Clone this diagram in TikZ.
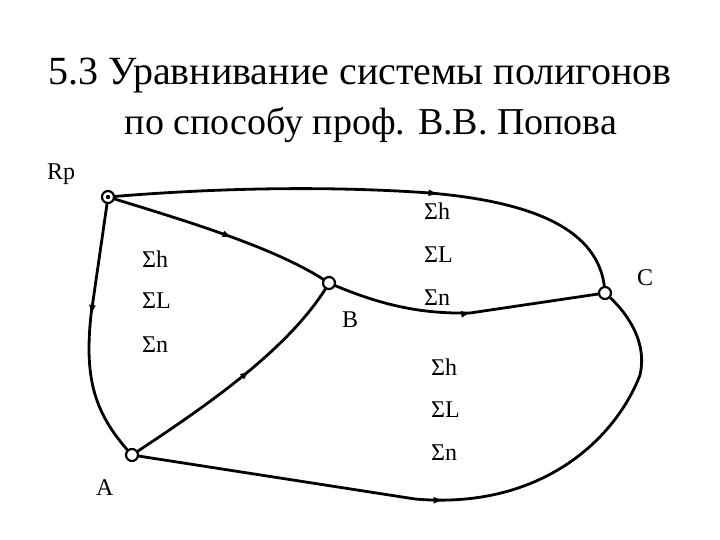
\documentclass[tikz,border=0pt]{standalone}
\usepackage{fontspec}
\setmainfont{Liberation Serif}
\usepackage{xcolor}
\usepackage{tikz}
\usetikzlibrary{arrows.meta,decorations.markings}
\definecolor{bg}{HTML}{FFFFFF}
\definecolor{ink}{HTML}{000000}
\tikzset{
  base/.style={draw=ink, line width=2.8pt, line cap=round, line join=round},
  arr/.style={postaction={decorate}, decoration={markings,
    mark=at position #1 with {\arrow{Latex[length=10pt,width=7pt]}}}},
  pt/.style={circle, draw=ink, fill=bg, line width=2.2pt, minimum size=12pt, inner sep=0pt},
  lab/.style={text=ink, font=\fontsize{24}{26}\selectfont, anchor=base west, inner sep=0pt},
  ttl/.style={text=ink, font=\fontsize{40}{44}\selectfont, anchor=base, inner sep=0pt},
}
\begin{document}
\begin{tikzpicture}[x=1pt,y=-1pt]
  \useasboundingbox[fill=bg] (0,0) rectangle (720,540);
  % title
  \node[ttl] (t1) at (360,85) {5.3 Уравнивание системы полигонов};
  \node[ttl, font=\fontsize{38}{42}\selectfont] (t2) at (371,135) {по способу проф. В.В. Попова};
  % points of the network
  \coordinate (rp) at (108,197);
  \coordinate (b) at (329,283);
  \coordinate (c) at (605,293);
  \coordinate (a) at (132,455);
  % lines
  \draw[base,arr=0.61] (rp) .. controls (250,185) and (360,188) .. (430,193)
    .. controls (545,203) and (602,235) .. (c);
  \draw[base,arr=0.55] (rp) .. controls (200,225) and (280,250) .. (b);
  \draw[base,arr=0.52] (b) .. controls (380,305) and (420,314) .. (470,313) -- (c);
  \draw[base,arr=0.44] (rp) -- (91,315) .. controls (84,380) and (95,415) .. (a);
  \draw[base,arr=0.55] (a) .. controls (200,410) and (290,350) .. (b);
  \draw[base,arr=0.48] (a) -- (415,499) .. controls (540,510) and (615,440) .. (640,375)
    .. controls (648,340) and (625,310) .. (c);
  % nodes
  \node[pt] (nrp) at (rp) {};
  \fill[ink] (nrp) circle (2.2pt);
  \node[pt] (nb) at (b) {};
  \node[pt] (nc) at (c) {};
  \node[pt] (na) at (a) {};
  % labels
  \node[lab] (lrp) at (47,180) {Rp};
  \node[lab] (lb) at (342,327) {B};
  \node[lab] (lc) at (637,285) {C};
  \node[lab] (la) at (96,495) {A};
  \node[lab] (h1) at (142,267) {Σh};
  \node[lab] (l1) at (142,308) {ΣL};
  \node[lab] (n1) at (142,352) {Σn};
  \node[lab] (h2) at (424,220) {Σh};
  \node[lab] (l2) at (424,262) {ΣL};
  \node[lab] (n2) at (424,305) {Σn};
  \node[lab] (h3) at (431,375) {Σh};
  \node[lab] (l3) at (431,417) {ΣL};
  \node[lab] (n3) at (431,460) {Σn};
\end{tikzpicture}
\end{document}
